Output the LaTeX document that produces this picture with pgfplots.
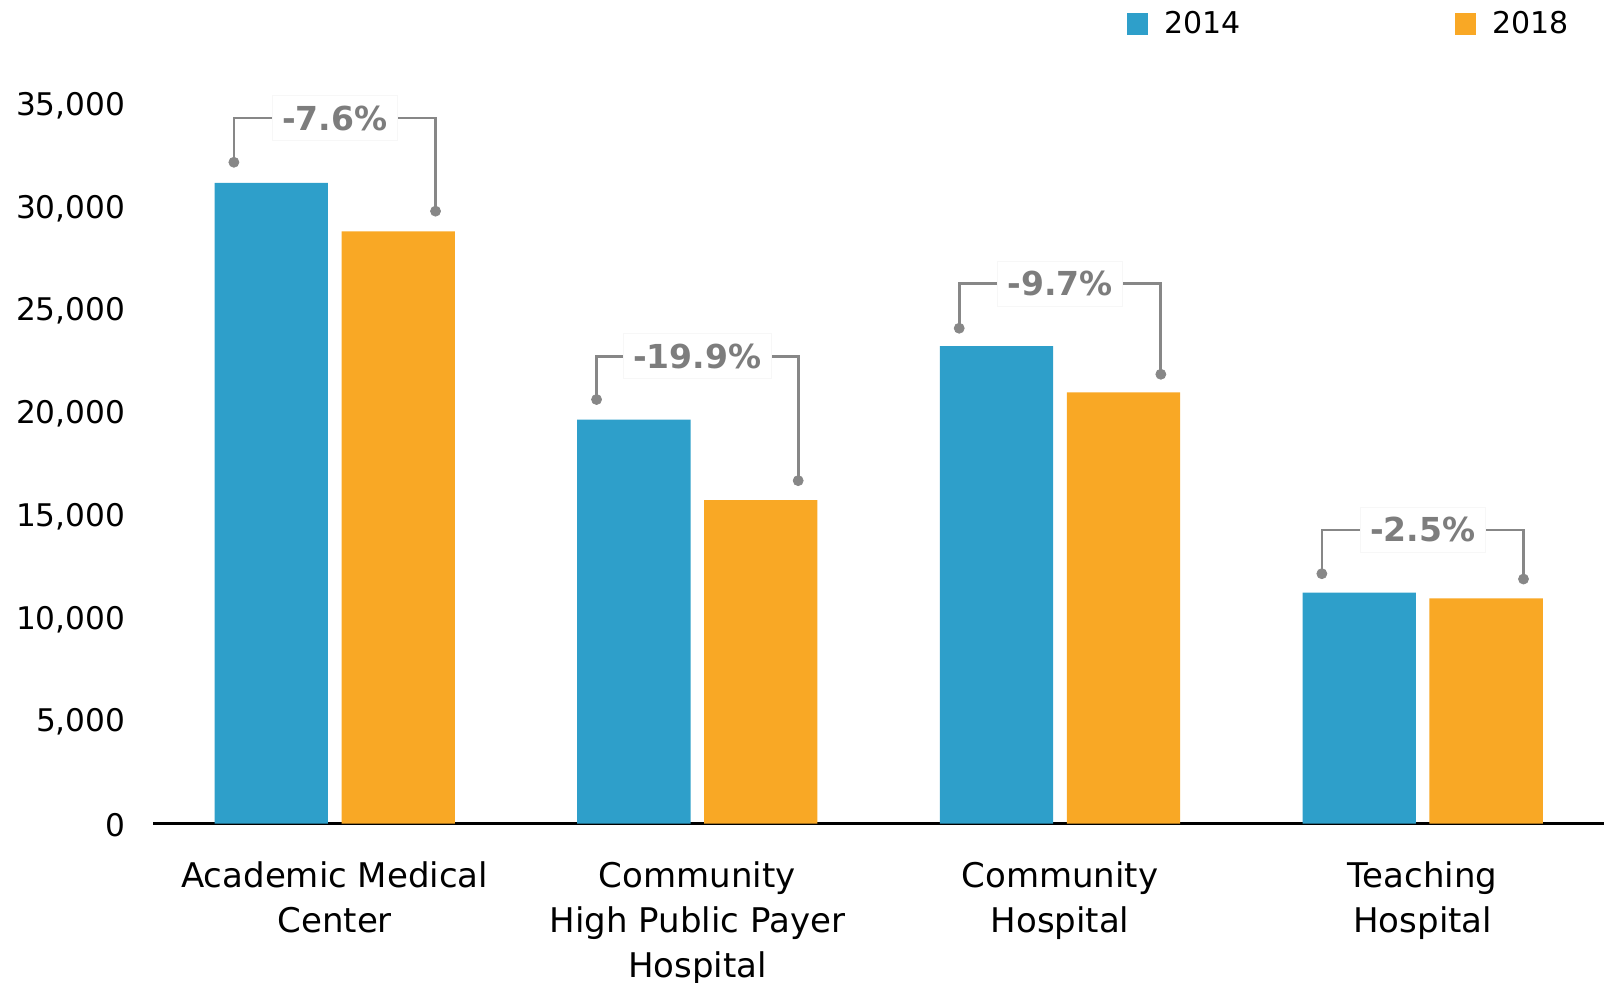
\documentclass[border=0pt]{standalone}
\usepackage{fontspec}
\setmainfont{DejaVu Sans}
\usepackage{pgfplots}
\usepackage{pgfplotstable}
\pgfplotsset{compat=1.18}
\definecolor{c14}{RGB}{46,159,202}
\definecolor{c18}{RGB}{249,168,37}
\definecolor{annot}{RGB}{135,135,135}
\definecolor{annottext}{RGB}{125,125,125}

\pgfplotstableread{
x y14 y18
0 31200 28830
1 19670 15750
2 23250 21000
3 11250 10970
}\datatable

\begin{document}
\begin{tikzpicture}
\begin{axis}[
  scale only axis,
  width=725.4pt, height=411.9pt,
  xmin=-0.5, xmax=3.5,
  ymin=0, ymax=40100,
  axis x line=bottom,
  axis y line=left,
  x axis line style={-, line width=1.25pt, black},
  y axis line style={draw=none},
  xtick={0,1,2,3},
  xticklabels={{Academic Medical\\Center},{Community\\High Public Payer\\Hospital},{Community\\Hospital},{Teaching\\Hospital}},
  xticklabel style={align=center, anchor=north, inner sep=0pt, yshift=-16.5pt, font=\fontsize{17}{22.5}\selectfont},
  xtick style={draw=none},
  ytick={0,5000,...,35000},
  ytick style={draw=none},
  scaled y ticks=false,
  yticklabel style={anchor=east, inner sep=0pt, xshift=-11.7pt, yshift=-0.5pt, font=\fontsize{15.6}{18}\selectfont},
  /pgf/number format/.cd, 1000 sep={,}, assume math mode=true,
  /pgfplots/.cd,
  clip=false,
  legend columns=2,
  legend style={draw=none, fill=none, at={(0.9785,0.971)}, anchor=east, inner sep=0pt,
    font=\fontsize{15}{18}\selectfont,
    /tikz/every odd column/.append style={column sep=6pt},
    /tikz/every even column/.append style={column sep=105pt}},
  legend image code/.code={\fill[#1] (0pt,-5.35pt) rectangle (10.7pt,5.35pt);},
]
\addplot[ybar, bar width=0.3125, bar shift=-0.175, fill=c14, draw=none] table[x=x, y=y14] {\datatable};
\addlegendentry{2014}
\addplot[ybar, bar width=0.3125, bar shift=0.175, fill=c18, draw=none] table[x=x, y=y18] {\datatable};
\addlegendentry{2018}

% brackets
\addplot[annot, line width=1.35pt, mark=none, forget plot] coordinates {(-0.278,32200) (-0.278,34350) (0.278,34350) (0.278,29820)};
\addplot[annot, line width=1.35pt, mark=none, forget plot] coordinates {(0.722,20650) (0.722,22750) (1.278,22750) (1.278,16700)};
\addplot[annot, line width=1.35pt, mark=none, forget plot] coordinates {(1.722,24120) (1.722,26300) (2.278,26300) (2.278,21880)};
\addplot[annot, line width=1.35pt, mark=none, forget plot] coordinates {(2.722,12170) (2.722,14300) (3.278,14300) (3.278,11910)};
\addplot[annot, only marks, mark=*, mark size=2.5pt, forget plot] coordinates {
(-0.278,32200) (0.278,29820)
(0.722,20650) (1.278,16700)
(1.722,24120) (2.278,21880)
(2.722,12170) (3.278,11910)};

\tikzset{lbl/.style={fill=white, draw=black!3, inner sep=5pt, text=annottext, font=\fontsize{16.5}{18}\selectfont\bfseries}}
\node[lbl] at (axis cs:0,34350) {-7.6\%};
\node[lbl] at (axis cs:1,22750) {-19.9\%};
\node[lbl] at (axis cs:2,26300) {-9.7\%};
\node[lbl] at (axis cs:3,14300) {-2.5\%};
\end{axis}
\pgfresetboundingbox
\path (current axis.south west) ++(-76.7pt,-79.25pt) coordinate (bbsw);
\path (bbsw) rectangle (current axis.north east);
\end{tikzpicture}
\end{document}
